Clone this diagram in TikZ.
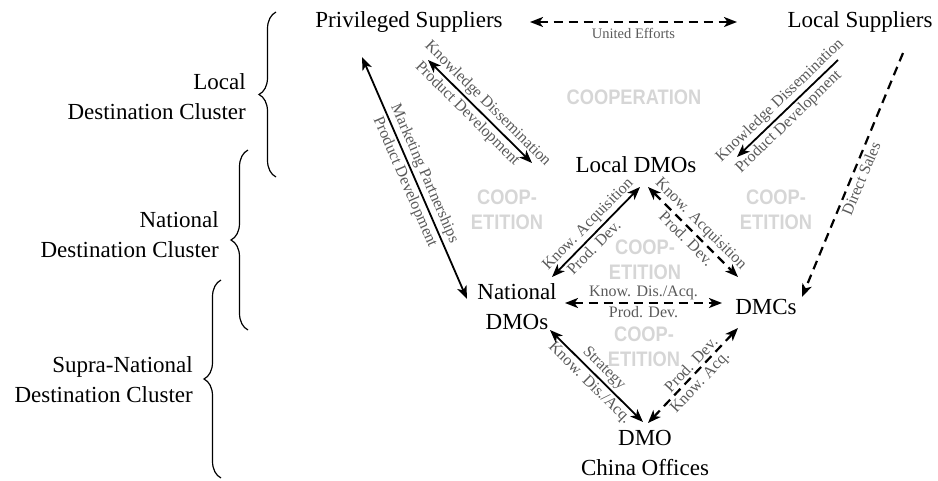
\documentclass[tikz,border=0pt]{standalone}
\usepackage{fontspec}
\setmainfont{Liberation Serif}
\newfontfamily\coopfont[FakeStretch=0.87]{Liberation Sans}
\usetikzlibrary{arrows.meta,decorations.pathreplacing}
\definecolor{labelgray}{HTML}{5A5A5A}
\definecolor{coopgray}{HTML}{D6D6D6}

\begin{document}
\begin{tikzpicture}[x=1pt,y=-1pt,
  >={Stealth[length=13pt,width=10pt,inset=3.5pt]},
  actor/.style={inner sep=0pt, font=\fontsize{23}{30}\selectfont, align=center},
  cluster/.style={inner sep=0pt, font=\fontsize{23}{30}\selectfont, align=right, anchor=east},
  flowlabel/.style={font=\fontsize{16}{16}\selectfont, text=labelgray, inner sep=2.5pt},
  midlabel/.style={font=\fontsize{16}{16}\selectfont, text=labelgray, inner sep=2pt},
  coop/.style={font=\coopfont\bfseries\fontsize{21}{25}\selectfont, text=coopgray, align=center, inner sep=0pt},
  solidlink/.style={line width=1.8pt},
  dashlink/.style={line width=2.2pt, dash pattern=on 9pt off 6pt},
  bracket/.style={line width=1.2pt, decorate, decoration={brace, amplitude=17pt}}
]
\useasboundingbox (0,0) rectangle (938,480);

% background region captions
\node[coop] (cooperation) at (634,97) {COOPERATION};
\node[coop] (coopleft)  at (507,210) {COOP-\\ETITION};
\node[coop] (coopright) at (776,210) {COOP-\\ETITION};
\node[coop] (coopmid)   at (645,260) {COOP-\\ETITION};
\node[coop] (coopbot)   at (644,347) {COOP-\\ETITION};

% actors
\node[actor] (ps)  at (409,22)  {Privileged Suppliers};
\node[actor] (ls)  at (860,22)  {Local Suppliers};
\node[actor] (ld)  at (636,165) {Local DMOs};
\node[actor] (nd)  at (517,307) {National\\DMOs};
\node[actor] (dmc) at (766,307) {DMCs};
\node[actor] (co)  at (645,453) {DMO\\China Offices};

% cluster levels
\node[cluster] (lc) at (246,97)  {Local\\Destination Cluster};
\node[cluster] (nc) at (219,235) {National\\Destination Cluster};
\node[cluster] (sc) at (193,380) {Supra-National\\Destination Cluster};
\draw[bracket] (276,177) -- (276,12);
\draw[bracket] (248,330) -- (248,150);
\draw[bracket] (221,478) -- (221,280);

% supplier links
\draw[dashlink,<->] ([shift={(121,0)}]ps.center) -- ([shift={(-123,0)}]ls.center)
  node[midlabel, midway, below, font=\fontsize{14.5}{14.5}\selectfont, yshift=-3pt] {United Efforts};
\draw[solidlink,<->] ([shift={(-47,35)}]ps.center) -- ([shift={(-50,-8)}]nd.center)
  node[flowlabel, midway, sloped, above] {Marketing Partnerships}
  node[flowlabel, midway, sloped, below] {Product Development};
\draw[solidlink,<->] ([shift={(19,38)}]ps.center) -- ([shift={(-104,-2)}]ld.center)
  node[flowlabel, midway, sloped, above] {Knowledge Dissemination}
  node[flowlabel, pos=0.45, sloped, below] {Product Development};
\draw[solidlink,->] ([shift={(-22,38)}]ls.center) -- ([shift={(101,-8)}]ld.center)
  node[flowlabel, midway, sloped, above] {Knowledge Dissemination}
  node[flowlabel, pos=0.56, sloped, below] {Product Development};
\draw[dashlink,->] ([shift={(43,31)}]ls.center) -- ([shift={(36,-10)}]dmc.center)
  node[flowlabel, midway, sloped, below] {Direct Sales};

% DMO links
\draw[solidlink,<->] ([shift={(4,22)}]ld.center) -- ([shift={(35,-30)}]nd.center)
  node[flowlabel, midway, sloped, above] {Know. Acquisition}
  node[flowlabel, pos=0.6, sloped, below] {Prod. Dev.};
\draw[dashlink,<->] ([shift={(12,22)}]ld.center) -- ([shift={(-28,-30)}]dmc.center)
  node[flowlabel, midway, sloped, above] {Know. Acquisition}
  node[flowlabel, midway, sloped, below] {Prod. Dev.};
\draw[dashlink,<->] ([shift={(48,-4)}]nd.center) -- ([shift={(-44,-4)}]dmc.center)
  node[midlabel, midway, above] {Know. Dis./Acq.}
  node[midlabel, midway, below] {Prod. Dev.};
\draw[solidlink,<->] ([shift={(33,23)}]nd.center) -- ([shift={(-2,-31)}]co.center)
  node[flowlabel, midway, sloped, above] {Strategy}
  node[flowlabel, midway, sloped, below] {Know. Dis./Acq.};
\draw[dashlink,<->] ([shift={(-28,21)}]dmc.center) -- ([shift={(3,-30)}]co.center)
  node[flowlabel, pos=0.45, sloped, above] {Prod. Dev.}
  node[flowlabel, midway, sloped, below] {Know. Acq.};
\end{tikzpicture}
\end{document}
